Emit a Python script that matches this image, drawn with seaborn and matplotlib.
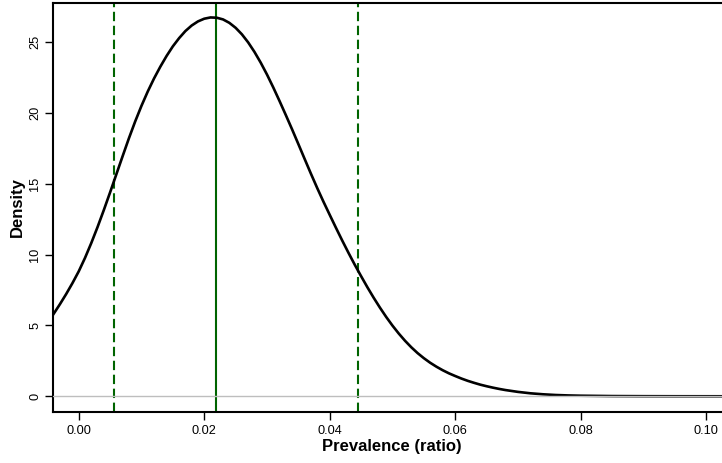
import matplotlib
matplotlib.use("Agg")
import matplotlib.pyplot as plt
import seaborn as sns
import pandas as pd

# Density curve
prevalence = [-0.0041, -0.003, -0.002, -0.001, 0.000, 0.001, 0.002, 0.003,
              0.004, 0.005, 0.006, 0.007, 0.008, 0.009, 0.010, 0.011,
              0.012, 0.013, 0.014, 0.015, 0.016, 0.017, 0.018, 0.019,
              0.020, 0.021, 0.022, 0.023, 0.024, 0.025, 0.026, 0.027,
              0.028, 0.029, 0.030, 0.031, 0.032, 0.033, 0.034, 0.035,
              0.036, 0.037, 0.038, 0.039, 0.040, 0.041, 0.042, 0.043,
              0.044, 0.045, 0.046, 0.047, 0.048, 0.049, 0.050, 0.051,
              0.052, 0.053, 0.054, 0.055, 0.056, 0.057, 0.058, 0.059,
              0.060, 0.061, 0.062, 0.063, 0.064, 0.065, 0.066, 0.067,
              0.068, 0.070, 0.072, 0.074, 0.076, 0.078, 0.080, 0.085,
              0.090, 0.095, 0.1025]
density = [5.75, 6.50, 7.22, 7.99, 8.82, 9.77, 10.82, 11.95,
           13.15, 14.40, 15.68, 16.96, 18.22, 19.41, 20.51, 21.52,
           22.44, 23.27, 24.03, 24.71, 25.29, 25.79, 26.18, 26.47,
           26.66, 26.75, 26.73, 26.61, 26.37, 26.02, 25.56, 24.99,
           24.32, 23.56, 22.72, 21.81, 20.85, 19.86, 18.85, 17.81,
           16.76, 15.72, 14.71, 13.74, 12.81, 11.89, 10.99, 10.12,
           9.28, 8.48, 7.70, 6.96, 6.26, 5.60, 4.99, 4.43,
           3.92, 3.46, 3.05, 2.69, 2.37, 2.09, 1.84, 1.62,
           1.43, 1.25, 1.09, 0.95, 0.82, 0.71, 0.61, 0.52,
           0.44, 0.31, 0.21, 0.14, 0.09, 0.06, 0.04, 0.015,
           0.006, 0.002, 0.0]

center_value = 0.0219
interval_bounds = [0.00555, 0.04454]

x_ticks = [0.00, 0.02, 0.04, 0.06, 0.08, 0.10]
x_tick_labels = ["0.00", "0.02", "0.04", "0.06", "0.08", "0.10"]
y_ticks = [0, 5, 10, 15, 20, 25]
y_tick_labels = ["0", "5", "10", "15", "20", "25"]

sns.set_style("ticks")
plt.rcParams["font.family"] = ["Liberation Sans", "DejaVu Sans"]
plt.rcParams["text.color"] = "black"
plt.rcParams["axes.labelcolor"] = "black"
plt.rcParams["xtick.color"] = "black"
plt.rcParams["ytick.color"] = "black"

df = pd.DataFrame({"Prevalence": prevalence, "Density": density})

fig = plt.figure(figsize=(7.22, 4.63), dpi=100)
ax = fig.add_axes([53 / 722, 51 / 463, 678 / 722, 409 / 463])

green = "#006400"
sns.lineplot(data=df, x="Prevalence", y="Density", color="black", lw=1.9,
             ax=ax, zorder=3)
ax.axhline(0, color="#bebebe", lw=1.0, zorder=4)
ax.axvline(center_value, color=green, lw=1.5, zorder=2)
for b in interval_bounds:
    ax.axvline(b, color=green, lw=1.5, ls=(0, (4.5, 2.2)), zorder=2)

ax.set_xlim(-0.0041, -0.0041 + 678 / 6275)
ax.set_ylim(-1.11, 27.77)
ax.set_xticks(x_ticks)
ax.set_xticklabels(x_tick_labels, fontsize=9.2)
ax.set_yticks(y_ticks)
ax.set_yticklabels(y_tick_labels, fontsize=9.2, rotation=90, va="center")
ax.tick_params(axis="x", length=5.5, width=1.0, pad=4, color="black")
ax.tick_params(axis="y", length=5.5, width=1.0, pad=3, color="black")
for s in ax.spines.values():
    s.set_visible(True)
    s.set_linewidth(1.5)
    s.set_color("black")

ax.set_xlabel("Prevalence (ratio)", fontsize=12, fontweight="bold", labelpad=1)
ax.set_ylabel("Density", fontsize=12, fontweight="bold", labelpad=3)

fig.savefig("out.png", dpi=100)
